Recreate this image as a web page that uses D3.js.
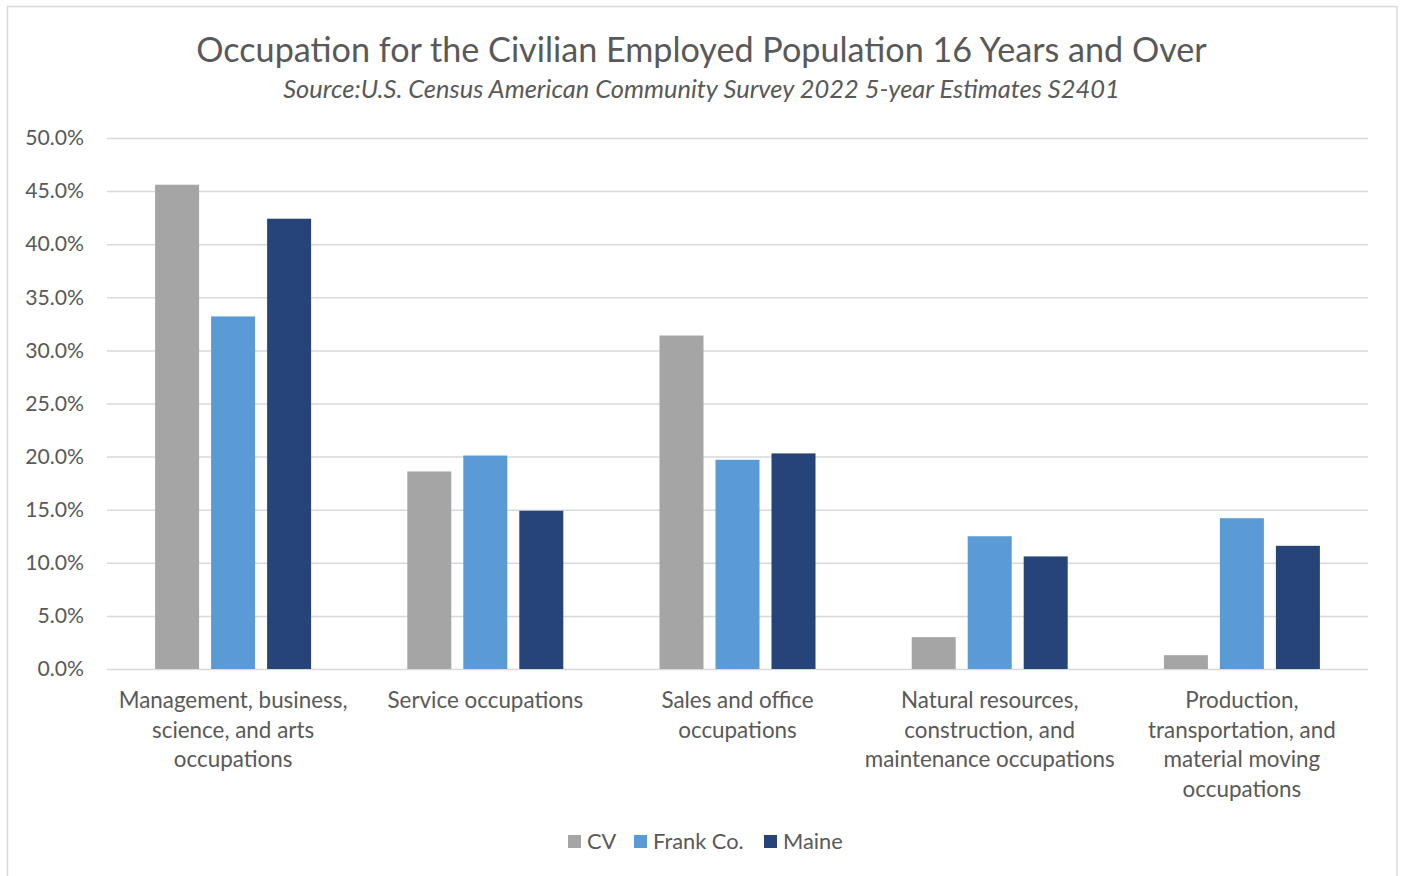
<!DOCTYPE html>
<html><head><meta charset="utf-8">
<script src="https://cdn.jsdelivr.net/npm/d3@7"></script>
<style>
html,body{margin:0;padding:0;background:#fff;}
svg{display:block;font-family:Lato,"Open Sans",sans-serif;}
</style></head>
<body><svg id="c" width="1401" height="876"></svg>
<script>
const categories = ["Management, business, science, and arts occupations","Service occupations","Sales and office occupations","Natural resources, construction, and maintenance occupations","Production, transportation, and material moving occupations"];
const categoryLines = [
  ["Management, business,","science, and arts","occupations"],
  ["Service occupations"],
  ["Sales and office","occupations"],
  ["Natural resources,","construction, and","maintenance occupations"],
  ["Production,","transportation, and","material moving","occupations"]
];
const seriesNames = ["CV","Frank Co.","Maine"];
const cvValues = [45.6, 18.6, 31.4, 3.0, 1.3];
const frankValues = [33.2, 20.1, 19.7, 12.5, 14.2];
const maineValues = [42.4, 14.9, 20.3, 10.6, 11.6];
const yTicks = [0,5,10,15,20,25,30,35,40,45,50];
const colors = ["#a5a5a5","#5b9bd5","#264478"];
const titleText = "Occupation for the Civilian Employed Population 16 Years and Over";
const subtitleText = "Source:U.S. Census American Community Survey 2022 5-year Estimates S2401";

const seriesValues = [cvValues, frankValues, maineValues];
const svg = d3.select("#c");
const plot = {left:107, right:1368, top:138, bottom:669};

// chart border
svg.append("rect").attr("x",7.5).attr("y",6.5).attr("width",1389.5).attr("height",880)
  .attr("fill","#fff").attr("stroke","#d9d9d9").attr("stroke-width",1.5);

function fitText(sel, target){
  const w = sel.node().getComputedTextLength();
  const fs = parseFloat(sel.attr("font-size"));
  sel.attr("font-size", fs*target/w);
}
const title = svg.append("text").attr("x",701.5).attr("y",62).attr("text-anchor","middle")
  .attr("font-size",30).attr("fill","#595959").text(titleText);
fitText(title, 1011);
const sub = svg.append("text").attr("x",701.5).attr("y",98).attr("text-anchor","middle")
  .attr("font-size",22).attr("font-style","italic").attr("fill","#595959").text(subtitleText);
fitText(sub, 837);

const y = d3.scaleLinear().domain([0,50]).range([plot.bottom, plot.top]);
const x0 = d3.scaleBand().domain(categories).range([plot.left, plot.right]).paddingInner(0).paddingOuter(0);
const groupW = 156;
const x1 = d3.scaleBand().domain(seriesNames)
  .range([(x0.bandwidth()-groupW)/2, (x0.bandwidth()+groupW)/2]).paddingInner(12/56).paddingOuter(0);

// gridlines + y axis
const yAxis = d3.axisLeft(y).tickValues(yTicks).tickSize(-(plot.right-plot.left)).tickPadding(23)
  .tickFormat(d => d.toFixed(1)+"%");
const ga = svg.append("g").attr("transform",`translate(${plot.left},0)`).call(yAxis);
ga.select(".domain").remove();
ga.selectAll(".tick line").attr("stroke","#d9d9d9").attr("stroke-width",1.5);
ga.selectAll(".tick text").attr("fill","#595959").attr("font-size",21.2).attr("font-family","Lato");

// bars
const data = [];
categories.forEach((c,i)=>seriesNames.forEach((s,j)=>data.push({c,s,v:seriesValues[j][i],j})));
svg.append("g").selectAll("rect").data(data).join("rect")
  .attr("x", d => x0(d.c)+x1(d.s))
  .attr("width", x1.bandwidth())
  .attr("y", d => y(d.v))
  .attr("height", d => y(0)-y(d.v))
  .attr("fill", d => colors[d.j]);

// x labels
const xl = svg.append("g");
categories.forEach((c,i)=>{
  const cx = x0(c)+x0.bandwidth()/2;
  const t = xl.append("text").attr("x", cx).attr("y",708)
    .attr("text-anchor","middle").attr("font-size",22.4).attr("fill","#595959");
  categoryLines[i].forEach((ln,k)=>{
    t.append("tspan").attr("x", cx).attr("dy", k===0?0:29.5).text(ln);
  });
});

// legend
const legendX = [568, 634, 764];
const lg = svg.append("g");
seriesNames.forEach((s,j)=>{
  lg.append("rect").attr("x",legendX[j]).attr("y",835).attr("width",13).attr("height",13).attr("fill",colors[j]);
  lg.append("text").attr("x",legendX[j]+19).attr("y",849).attr("font-size",21.8).attr("fill","#595959").text(s);
});
</script></body></html>
